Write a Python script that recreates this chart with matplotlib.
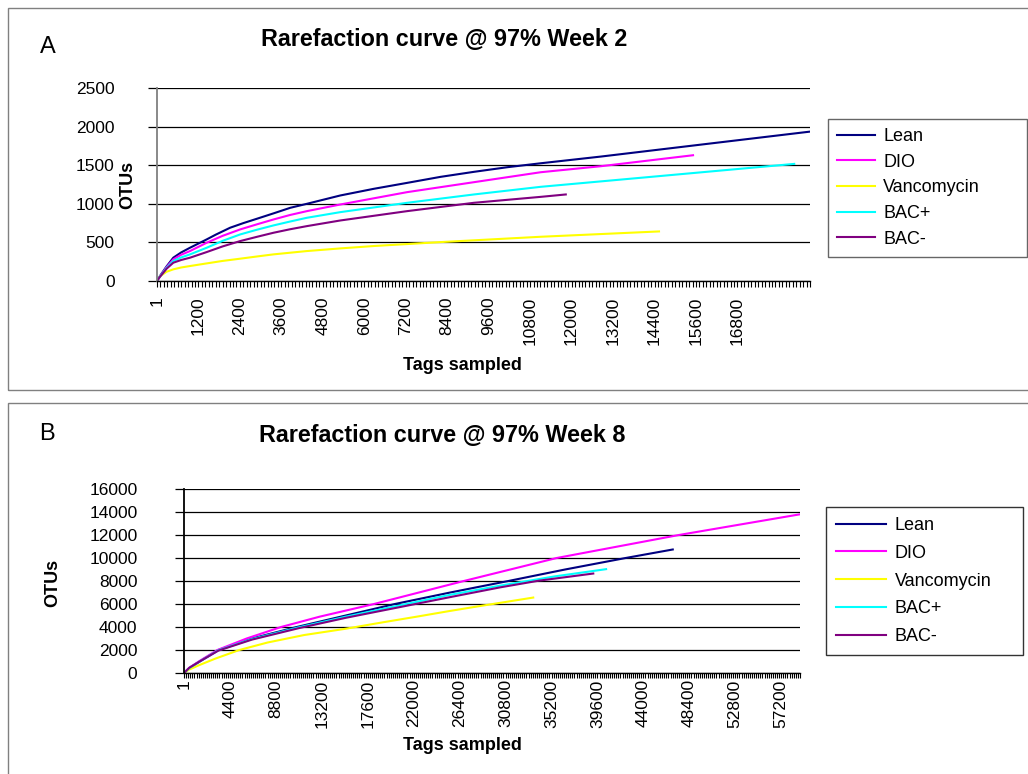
import matplotlib
matplotlib.use("Agg")
import matplotlib.pyplot as plt
from matplotlib.lines import Line2D
from matplotlib.patches import Rectangle
import numpy as np

plt.rcParams["font.family"] = ["Liberation Sans", "DejaVu Sans"]

W, H = 1028, 774

labels = ["Lean", "DIO", "Vancomycin", "BAC+", "BAC-"]
colors = ["#000080", "#FF00FF", "#FFFF00", "#00FFFF", "#800080"]

# Week 2 (panel A)
w2_lean_x = [1, 87, 180, 280, 473, 700, 957, 1440, 1700, 2117, 2500, 2890, 3400, 3857, 4340, 5307,
             6273, 7240, 8207, 9173, 10140, 11107, 12850, 15750, 18900]
w2_lean_y = [1, 65, 125, 190, 302, 370, 431, 539, 600, 690, 750, 806, 880, 948, 1000, 1108,
             1194, 1271, 1349, 1414, 1474, 1525, 1612, 1767, 1935]
w2_dio_x = [1, 87, 180, 280, 473, 700, 957, 1440, 1900, 2407, 2900, 3373, 3850, 4340, 5307, 7240,
            9173, 11107, 12850, 15515]
w2_dio_y = [1, 60, 115, 180, 280, 340, 388, 496, 585, 668, 735, 797, 855, 905, 991, 1151,
            1280, 1409, 1487, 1629]
w2_van_x = [1, 87, 180, 280, 473, 700, 957, 1440, 1900, 2407, 2900, 3373, 4340, 5300, 6273, 8207,
            11107, 14530]
w2_van_y = [1, 60, 90, 120, 151, 175, 194, 228, 260, 289, 318, 345, 388, 422, 453, 504,
            573, 642]
w2_bacp_x = [1, 87, 180, 280, 473, 700, 957, 1440, 1900, 2407, 2900, 3373, 3850, 4340, 5307, 7240,
             9173, 11107, 14200, 18444]
w2_bacp_y = [1, 58, 110, 170, 259, 305, 345, 431, 520, 603, 665, 720, 770, 819, 892, 1013,
             1121, 1220, 1345, 1517]
w2_bacm_x = [1, 87, 180, 280, 473, 700, 957, 1440, 1900, 2407, 2900, 3373, 3850, 4340, 5307, 7240,
             9173, 11107, 11832]
w2_bacm_y = [1, 55, 105, 160, 237, 272, 302, 375, 448, 517, 573, 625, 670, 711, 784, 905,
             1013, 1090, 1121]

# Week 8 (panel B)
w8_lean_x = [1, 500, 1500, 3300, 6500, 10800, 15500, 20200, 25500, 31070, 36500, 42300, 46814]
w8_lean_y = [1, 420, 1000, 2000, 3000, 4000, 5000, 6000, 7000, 8000, 9000, 10000, 10740]
w8_dio_x = [1, 500, 1500, 3200, 6000, 9300, 13000, 18200, 26800, 35700, 47400, 59000]
w8_dio_y = [1, 450, 1050, 2000, 3000, 4000, 4900, 6000, 8000, 10000, 12000, 13800]
w8_van_x = [1, 500, 1500, 3000, 5300, 8000, 11500, 15500, 19000, 22300, 25500, 28400, 33450]
w8_van_y = [1, 300, 700, 1250, 2000, 2650, 3300, 3850, 4400, 4900, 5400, 5830, 6560]
w8_bacp_x = [1, 500, 1500, 3300, 6500, 10900, 15500, 20500, 25500, 30300, 35500, 40430]
w8_bacp_y = [1, 420, 1000, 1980, 2950, 3950, 4900, 5850, 6800, 7600, 8400, 9030]
w8_bacm_x = [1, 500, 1500, 3300, 6500, 11000, 15500, 20500, 25500, 30300, 34000, 39200]
w8_bacm_y = [1, 450, 1000, 1950, 2900, 3900, 4800, 5700, 6600, 7450, 8030, 8650]

w2_xticks = [1] + list(range(1200, 16801, 1200))
w2_yticks = [0, 500, 1000, 1500, 2000, 2500]
w8_xticks = [1] + list(range(4400, 57201, 4400))
w8_yticks = list(range(0, 16001, 2000))


def fx(px):
    return px / W


def fy(py):
    return 1 - py / H


fig = plt.figure(figsize=(W / 100, H / 100), dpi=100)

# panel frames
fig.add_artist(Rectangle((fx(8), fy(390)), fx(1030 - 8), fy(8) - fy(390),
                         transform=fig.transFigure, fill=False, ec="#808080", lw=1))
fig.add_artist(Rectangle((fx(8), fy(780)), fx(1030 - 8), fy(403) - fy(780),
                         transform=fig.transFigure, fill=False, ec="#808080", lw=1))


def setup(ax, xticks, yticks, xmax, ymax, minor_step, ypad, xlen, xpad, left_color):
    ax.set_xlim(1, xmax)
    ax.set_ylim(0, ymax)
    ax.set_xticks(xticks)
    ax.set_xticklabels([str(t) for t in xticks], rotation=90, fontsize=12.5)
    ax.set_xticks(np.arange(minor_step, xmax + 1, minor_step), minor=True)
    ax.set_yticks(yticks)
    ax.set_yticklabels([str(t) for t in yticks], fontsize=12.5)
    ax.tick_params(axis="x", which="both", direction="out", length=xlen, width=0.8, pad=xpad)
    ax.tick_params(axis="y", direction="out", length=6.5, width=0.9, pad=ypad)
    for s in ["top", "right"]:
        ax.spines[s].set_visible(False)
    ax.spines["left"].set_color(left_color)
    ax.spines["left"].set_linewidth(1.3)
    ax.spines["bottom"].set_linewidth(1)
    ax.yaxis.grid(True, color="black", lw=0.9)
    ax.set_axisbelow(True)


# Panel A
axA = fig.add_axes([fx(157), fy(281), fx(810 - 157), fy(88) - fy(281)])
series_a = [(w2_lean_x, w2_lean_y), (w2_dio_x, w2_dio_y), (w2_van_x, w2_van_y),
            (w2_bacp_x, w2_bacp_y), (w2_bacm_x, w2_bacm_y)]
for (x, y), c in zip(series_a, colors):
    axA.plot(x, y, color=c, lw=1.5)
setup(axA, w2_xticks, w2_yticks, 18900, 2500, 100, 24, 4, 7, "#808080")

# Panel B
axB = fig.add_axes([fx(184), fy(673), fx(800 - 184), fy(489) - fy(673)])
series_b = [(w8_lean_x, w8_lean_y), (w8_dio_x, w8_dio_y), (w8_van_x, w8_van_y),
            (w8_bacp_x, w8_bacp_y), (w8_bacm_x, w8_bacm_y)]
for (x, y), c in zip(series_b, colors):
    axB.plot(x, y, color=c, lw=1.5)
setup(axB, w8_xticks, w8_yticks, 59000, 16000, 200, 27, 3.5, 1, "black")

# titles and labels
fig.text(fx(444), fy(40), "Rarefaction curve @ 97% Week 2", ha="center", va="center",
         fontsize=16.8, fontweight="bold")
fig.text(fx(442), fy(435), "Rarefaction curve @ 97% Week 8", ha="center", va="center",
         fontsize=16.8, fontweight="bold")
fig.text(fx(48), fy(47), "A", ha="center", va="center", fontsize=17)
fig.text(fx(47), fy(434), "B", ha="center", va="center", fontsize=17)
fig.text(fx(128), fy(185), "OTUs", rotation=90, ha="center", va="center",
         fontsize=13, fontweight="bold")
fig.text(fx(53), fy(583), "OTUs", rotation=90, ha="center", va="center",
         fontsize=13, fontweight="bold")
fig.text(fx(462), fy(365), "Tags sampled", ha="center", va="center",
         fontsize=13, fontweight="bold")
fig.text(fx(462), fy(746), "Tags sampled", ha="center", va="center",
         fontsize=13, fontweight="bold")

# legends
handles = [Line2D([], [], color=c, lw=1.5) for c in colors]
legA = fig.legend(handles, labels, loc="upper left",
                  bbox_to_anchor=(fx(828), fy(119), fx(1027 - 828), 0), mode="expand",
                  fontsize=13, frameon=True, fancybox=False, edgecolor="#404040",
                  handlelength=2.1, handletextpad=0.45, labelspacing=0.48,
                  borderpad=0.5, borderaxespad=0)
legA.get_frame().set_linewidth(1)
legB = fig.legend(handles, labels, loc="upper left",
                  bbox_to_anchor=(fx(826), fy(507), fx(1023 - 826), 0), mode="expand",
                  fontsize=13, frameon=True, fancybox=False, edgecolor="black",
                  handlelength=2.8, handletextpad=0.45, labelspacing=0.6,
                  borderpad=0.55, borderaxespad=0)
legB.get_frame().set_linewidth(1)

fig.savefig("out.png", dpi=100)
